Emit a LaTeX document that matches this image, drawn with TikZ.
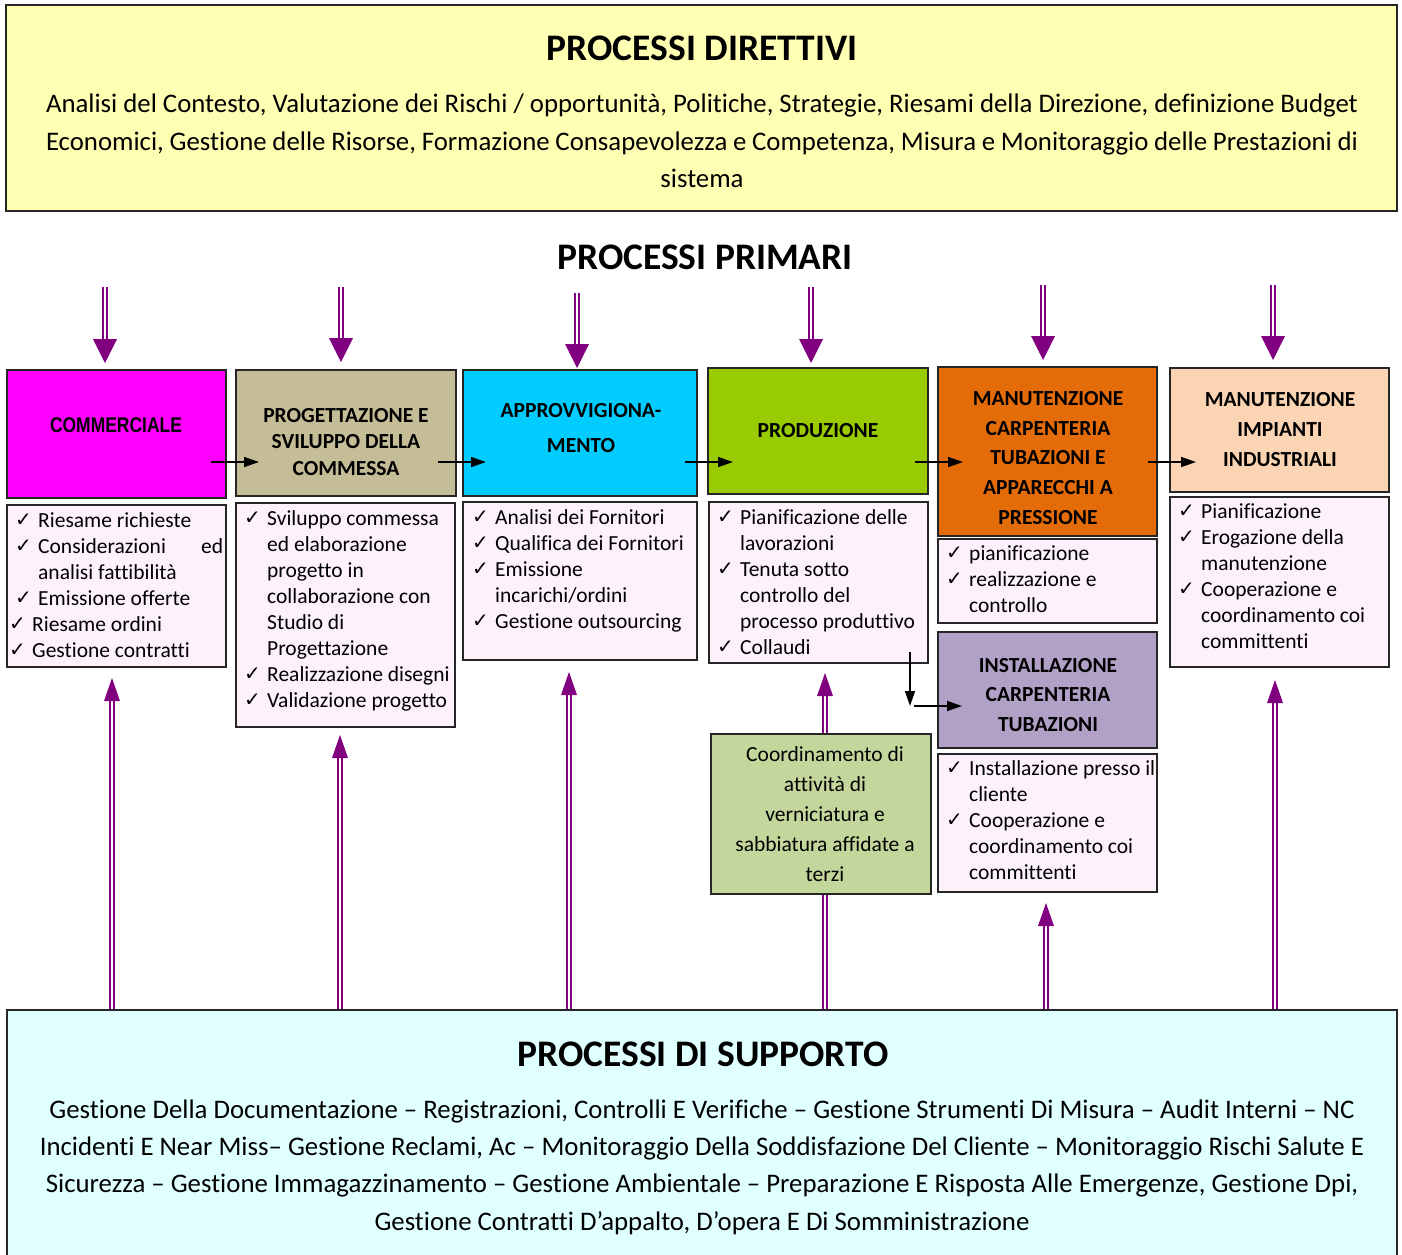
\documentclass[tikz,border=0pt]{standalone}
\usepackage{fontspec}
\setmainfont[Ligatures={NoCommon}]{Carlito}
\newfontfamily\symf{DejaVu Sans}
\newfontfamily\narrowf[FakeStretch=0.82]{Liberation Sans}
\usetikzlibrary{calc,backgrounds,arrows.meta}
\definecolor{yellowt}{HTML}{FFFFB3}
\definecolor{magentah}{HTML}{FF00FF}
\definecolor{tanh}{HTML}{C4BD97}
\definecolor{cyanh}{HTML}{00CCFF}
\definecolor{greenh}{HTML}{99CC00}
\definecolor{orangeh}{HTML}{E36C09}
\definecolor{peachh}{HTML}{FBD4B4}
\definecolor{lavh}{HTML}{B2A1C7}
\definecolor{oliveh}{HTML}{C3D69B}
\definecolor{listpink}{HTML}{FDF2FB}
\definecolor{supcyan}{HTML}{E0FFFF}
\definecolor{purp}{HTML}{800080}
\newcommand\ck{\makebox[23pt][l]{\raisebox{1pt}{\fontsize{20}{20}\selectfont\symf ✓}}}
\newcommand\ind{\hspace*{23pt}}
\tikzset{
  box/.style={draw=black!85, line width=1.8pt, anchor=north west, inner sep=0pt, outer sep=0pt},
  lst/.style={box, fill=listpink},
  ltxt/.style={anchor=north west, inner sep=0pt, align=left, font=\fontsize{21.5}{26.1}\selectfont},
  htxt/.style={align=center, inner sep=0pt},
  ttl/.style={font=\bfseries\fontsize{37.5}{44}\selectfont, inner sep=0pt},
  dbl/.style={draw=purp, line width=2.2pt, double=white, double distance=2.4pt},
  blk/.style={-{Triangle[length=15pt,width=10pt]}, line width=1.4pt},
}
\begin{document}
\begin{tikzpicture}[x=1pt,y=-1pt]
\useasboundingbox (0,0) rectangle (1402,1254);
% ---------- top box
\node[box, fill=yellowt, minimum width=1391pt, minimum height=206pt] (dir) at (6,5) {};
\node[ttl] (dirT) at (702,48) {PROCESSI DIRETTIVI};
\node[htxt, font=\fontsize{26.8}{37.5}\selectfont] (dirB) at (702,141)
 {\makebox[1312pt][s]{Analisi del Contesto, Valutazione dei Rischi / opportunità, Politiche, Strategie, Riesami della Direzione, definizione Budget}\\
  \makebox[1312pt][s]{Economici, Gestione delle Risorse, Formazione Consapevolezza e Competenza, Misura e Monitoraggio delle Prestazioni di}\\
  sistema};
\node[ttl] (prim) at (705,257) {PROCESSI PRIMARI};
% ---------- header boxes
\node[box, fill=magentah, minimum width=219pt, minimum height=128pt] (comm) at (7,370) {};
\node[box, fill=tanh, minimum width=220pt, minimum height=126pt] (prog) at (236,370) {};
\node[box, fill=cyanh, minimum width=234pt, minimum height=126pt] (app) at (463,370) {};
\node[box, fill=greenh, minimum width=220pt, minimum height=126pt] (prod) at (708,368) {};
\node[box, fill=orangeh, minimum width=219pt, minimum height=169pt] (mc) at (938,367) {};
\node[box, fill=lavh, minimum width=219pt, minimum height=116pt] (ins) at (938,632) {};
\node[box, fill=peachh, minimum width=219pt, minimum height=124pt] (mi) at (1170,368) {};
\node[box, fill=oliveh, minimum width=220pt, minimum height=160pt] (coord) at (711,734) {};
% header texts
\node[htxt, font=\narrowf\bfseries\fontsize{21.3}{26}\selectfont] (commT) at (116,425) {COMMERCIALE};
\node[htxt, font=\bfseries\fontsize{21.5}{26.5}\selectfont] (progT) at (346,442) {PROGETTAZIONE E\\SVILUPPO DELLA\\COMMESSA};
\node[htxt, font=\bfseries\fontsize{21.5}{35}\selectfont] (appT) at (581,428) {APPROVVIGIONA-\\MENTO};
\node[htxt, font=\bfseries\fontsize{21.5}{26}\selectfont] (prodT) at (818,431) {PRODUZIONE};
\node[htxt, font=\bfseries\fontsize{21.5}{29.8}\selectfont] (mcT) at (1048,458) {MANUTENZIONE\\CARPENTERIA\\TUBAZIONI E\\APPARECCHI A\\PRESSIONE};
\node[htxt, font=\bfseries\fontsize{21.5}{30}\selectfont] (miT) at (1280,430) {MANUTENZIONE\\IMPIANTI\\INDUSTRIALI};
\node[htxt, font=\bfseries\fontsize{21.5}{29.5}\selectfont] (insT) at (1048,695) {INSTALLAZIONE\\CARPENTERIA\\TUBAZIONI};
\node[htxt, font=\fontsize{21.5}{30}\selectfont] (coordT) at (825,814) {Coordinamento di\\attività di\\verniciatura e\\sabbiatura affidate a\\terzi};
% ---------- list boxes
\node[lst, minimum width=219pt, minimum height=162pt] (commL) at (7,505) {};
\node[lst, minimum width=219pt, minimum height=224pt] (progL) at (236,503) {};
\node[lst, minimum width=234pt, minimum height=158pt] (appL) at (463,502) {};
\node[lst, minimum width=219pt, minimum height=161pt] (prodL) at (709,502) {};
\node[lst, minimum width=219pt, minimum height=84pt] (mcL) at (938,539) {};
\node[lst, minimum width=219pt, minimum height=138pt] (insL) at (938,754) {};
\node[lst, minimum width=219pt, minimum height=170pt] (miL) at (1170,497) {};
% list texts
\node[ltxt] (commLT) at (15,512) {\ck Riesame richieste\\ \ck\makebox[185pt][s]{Considerazioni\hfill ed}\\ \ind analisi fattibilità\\ \ck Emissione offerte\\ \hspace*{-6pt}\ck Riesame ordini\\ \hspace*{-6pt}\ck Gestione contratti};
\node[ltxt] (progLT) at (244,510) {\ck Sviluppo commessa\\ \ind ed elaborazione\\ \ind progetto in\\ \ind collaborazione con\\ \ind Studio di\\ \ind Progettazione\\ \ck Realizzazione disegni\\ \ck Validazione progetto};
\node[ltxt] (appLT) at (472,509) {\ck Analisi dei Fornitori\\ \ck Qualifica dei Fornitori\\ \ck Emissione\\ \ind incarichi/ordini\\ \ck Gestione outsourcing};
\node[ltxt] (prodLT) at (717,509) {\ck Pianificazione delle\\ \ind lavorazioni\\ \ck Tenuta sotto\\ \ind controllo del\\ \ind processo produttivo\\ \ck Collaudi};
\node[ltxt] (mcLT) at (946,545) {\ck pianificazione\\ \ck realizzazione e\\ \ind controllo};
\node[ltxt] (insLT) at (946,760) {\ck Installazione presso il\\ \ind cliente\\ \ck Cooperazione e\\ \ind coordinamento coi\\ \ind committenti};
\node[ltxt] (miLT) at (1178,503) {\ck Pianificazione\\ \ck Erogazione della\\ \ind manutenzione\\ \ck Cooperazione e\\ \ind coordinamento coi\\ \ind committenti};
% ---------- bottom box
\node[box, fill=supcyan, minimum width=1390pt, minimum height=262pt] (sup) at (7,1010) {};
\node[ttl] (supT) at (703,1054) {PROCESSI DI SUPPORTO};
\node[htxt, font=\fontsize{26.8}{37.4}\selectfont] (supB) at (702,1167)
 {Gestione Della Documentazione – Registrazioni, Controlli E Verifiche – Gestione Strumenti Di Misura – Audit Interni – NC\\
  Incidenti E Near Miss– Gestione Reclami, Ac – Monitoraggio Della Soddisfazione Del Cliente – Monitoraggio Rischi Salute E\\
  Sicurezza – Gestione Immagazzinamento – Gestione Ambientale – Preparazione E Risposta Alle Emergenze, Gestione Dpi,\\
  Gestione Contratti D’appalto, D’opera E Di Somministrazione};
% ---------- purple double arrows (behind boxes)
\begin{scope}[on background layer]
  % downward arrows from PROCESSI PRIMARI
  \foreach \n/\xx/\ys/\gap in {comm/105/287/7, prog/341/287/8, app/577/293/2, prod/811/287/5, mc/1043/285/7, mi/1273/285/8}{
    \coordinate (d-\n) at (\xx,\ys);
    \coordinate (dt-\n) at ([yshift=\gap pt]d-\n |- \n.north);
    \draw[dbl] (d-\n) -- ([yshift=22pt]dt-\n);
    \fill[purp] (dt-\n) -- ++(-12,-24) -- ++(24,0) -- cycle;
  }
  % upward arrows from PROCESSI DI SUPPORTO
  \foreach \n/\xx/\gap in {commL/112/11, progL/340/8, appL/569/12, prodL/825/10, insL/1046/11, miL/1275/13}{
    \coordinate (u-\n) at (\xx,0 |- sup.north);
    \coordinate (ut-\n) at ([yshift=-\gap pt]u-\n |- \n.south);
    \draw[dbl] (u-\n) -- ([yshift=-20pt]ut-\n);
    \fill[purp] (ut-\n) -- ++(-8,23) -- ++(16,0) -- cycle;
  }
\end{scope}
% ---------- black flow arrows
\draw[blk] ([shift={(-15,-36)}]comm.south east) -- ([shift={(23,-34)}]prog.south west);
\draw[blk] ([shift={(-18,-34)}]prog.south east) -- ([shift={(23,-34)}]app.south west);
\draw[blk] ([shift={(-12,-34)}]app.south east) -- ([shift={(25,-32)}]prod.south west);
\draw[blk] ([shift={(-13,-32)}]prod.south east) -- ([shift={(25,-74)}]mc.south west);
\draw[blk] ([shift={(-9,-74)}]mc.south east) -- ([shift={(26,-30)}]mi.south west);
\draw[blk] ([shift={(-18,-11)}]prodL.south east) -- ([shift={(-28,-42)}]ins.south west);
\draw[blk] ([shift={(-24,16)}]ins.west) -- ([shift={(24,16)}]ins.west);
\end{tikzpicture}
\end{document}
